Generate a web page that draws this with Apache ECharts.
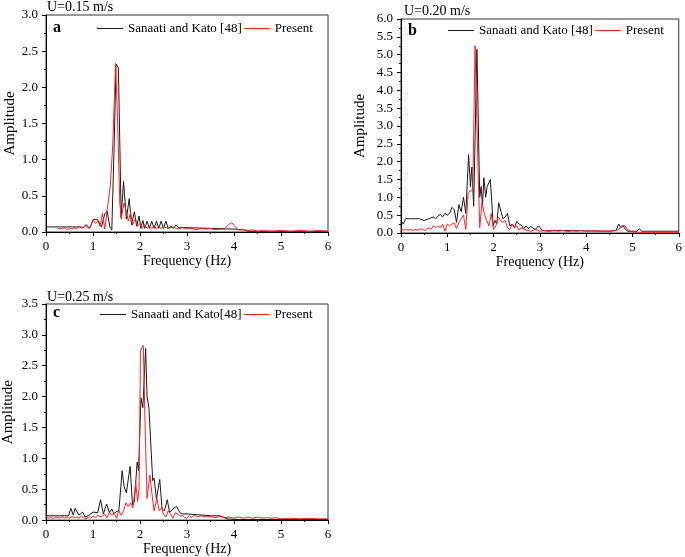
<!DOCTYPE html>
<html>
<head>
<meta charset="utf-8">
<script src="https://cdn.jsdelivr.net/npm/echarts@6/dist/echarts.min.js"></script>
<style>
html,body{margin:0;padding:0;background:#fff;}
#chart{width:685px;height:557px;}
</style>
</head>
<body>
<div id="chart"></div>
<script>
// ---------- DATA ----------
const freqTicks = [0, 1, 2, 3, 4, 5, 6];

// Panel a (U = 0.15 m/s)
const aRefF = [0, 0.75, 0.8, 0.86, 0.93, 1.0, 1.05, 1.1, 1.14, 1.18, 1.25, 1.3, 1.36, 1.4, 1.45, 1.49, 1.54, 1.6, 1.65, 1.71, 1.77, 1.82, 1.88, 1.93, 1.98, 2.02, 2.06, 2.1, 2.15, 2.2, 2.25, 2.3, 2.35, 2.4, 2.45, 2.5, 2.55, 2.6, 2.66, 2.71, 2.77, 2.82, 3.0, 3.5, 4.0, 4.2, 4.3, 5.0, 6.0];
const aRefA = [0.07, 0.07, 0.06, 0.1, 0.05, 0.17, 0.17, 0.17, 0.17, 0.07, 0.25, 0.29, 0.07, 0.03, 1.2, 2.32, 2.27, 0.2, 0.7, 0.18, 0.46, 0.1, 0.28, 0.08, 0.22, 0.05, 0.16, 0.05, 0.15, 0.05, 0.15, 0.05, 0.15, 0.05, 0.15, 0.05, 0.15, 0.05, 0.08, 0.05, 0.1, 0.06, 0.06, 0.05, 0.04, 0.03, 0.01, 0.01, 0.01];
const aPreF = [0.25, 0.3, 0.35, 0.4, 0.45, 0.5, 0.55, 0.6, 0.65, 0.7, 0.75, 0.8, 0.85, 0.9, 0.95, 1.0, 1.05, 1.1, 1.15, 1.2, 1.25, 1.3, 1.37, 1.42, 1.48, 1.52, 1.57, 1.6, 1.66, 1.71, 1.75, 1.8, 1.84, 1.9, 1.95, 2.0, 2.05, 2.1, 2.15, 2.2, 2.25, 2.3, 2.35, 2.4, 2.45, 2.5, 2.6, 2.7, 2.8, 2.9, 3.0, 3.1, 3.2, 3.3, 3.4, 3.5, 3.6, 3.7, 3.8, 3.88, 3.95, 4.02, 4.08, 4.2, 4.3, 4.4, 4.5, 4.6, 4.8, 5.0, 5.2, 5.4, 5.6, 5.8, 6.0];
const aPreA = [0.05, 0.04, 0.05, 0.06, 0.03, 0.05, 0.04, 0.06, 0.04, 0.08, 0.05, 0.07, 0.1, 0.05, 0.08, 0.17, 0.12, 0.15, 0.08, 0.26, 0.04, 0.3, 0.65, 1.2, 2.33, 1.6, 0.4, 0.18, 0.4, 0.28, 0.15, 0.27, 0.1, 0.18, 0.08, 0.12, 0.05, 0.1, 0.05, 0.08, 0.05, 0.09, 0.04, 0.08, 0.04, 0.07, 0.05, 0.07, 0.04, 0.06, 0.04, 0.05, 0.03, 0.05, 0.04, 0.05, 0.03, 0.04, 0.04, 0.1, 0.13, 0.08, 0.03, 0.03, 0.02, 0.03, 0.01, 0.02, 0.01, 0.02, 0.01, 0.02, 0.01, 0.02, 0.01];

// Panel b (U = 0.20 m/s)
const bRefF = [0, 0.05, 0.1, 0.2, 0.3, 0.4, 0.5, 0.6, 0.7, 0.75, 0.8, 0.85, 0.9, 0.95, 1.0, 1.05, 1.1, 1.15, 1.2, 1.25, 1.3, 1.35, 1.4, 1.46, 1.5, 1.53, 1.57, 1.64, 1.7, 1.73, 1.76, 1.79, 1.83, 1.86, 1.89, 1.93, 1.96, 1.99, 2.03, 2.07, 2.11, 2.15, 2.2, 2.25, 2.3, 2.35, 2.4, 2.45, 2.5, 2.55, 2.6, 2.65, 2.7, 2.75, 2.8, 2.9, 2.97, 3.05, 3.1, 3.5, 4.0, 4.5, 4.65, 4.7, 4.75, 4.8, 4.85, 4.9, 5.1, 5.15, 5.2, 6.0];
const bRefA = [0.35, 0.25, 0.4, 0.4, 0.4, 0.4, 0.35, 0.4, 0.45, 0.4, 0.48, 0.52, 0.45, 0.55, 0.5, 0.55, 0.72, 0.65, 0.3, 0.8, 0.6, 1.0, 0.55, 2.2, 1.3, 1.85, 0.75, 5.15, 1.0, 1.3, 0.75, 1.55, 1.0, 1.3, 1.25, 1.5, 0.9, 0.2, 0.35, 0.25, 0.85, 0.85, 0.4, 0.45, 0.55, 0.2, 0.25, 0.15, 0.32, 0.25, 0.22, 0.12, 0.2, 0.12, 0.18, 0.1, 0.2, 0.08, 0.06, 0.07, 0.06, 0.05, 0.07, 0.25, 0.15, 0.2, 0.1, 0.05, 0.05, 0.12, 0.05, 0.05];
const bPreF = [0, 0.05, 0.1, 0.15, 0.2, 0.25, 0.3, 0.35, 0.4, 0.45, 0.5, 0.55, 0.6, 0.65, 0.7, 0.75, 0.8, 0.85, 0.9, 0.95, 1.0, 1.05, 1.1, 1.15, 1.2, 1.25, 1.3, 1.35, 1.4, 1.45, 1.5, 1.55, 1.6, 1.65, 1.7, 1.75, 1.8, 1.85, 1.9, 1.95, 2.0, 2.05, 2.1, 2.15, 2.2, 2.25, 2.3, 2.35, 2.4, 2.45, 2.5, 2.55, 2.6, 2.7, 2.8, 2.9, 3.0, 3.1, 3.2, 3.3, 3.4, 3.5, 3.6, 3.7, 3.8, 3.9, 4.0, 4.2, 4.4, 4.6, 4.7, 4.8, 4.85, 4.9, 5.0, 5.2, 5.5, 6.0];
const bPreA = [0.1, 0.08, 0.1, 0.08, 0.1, 0.07, 0.1, 0.08, 0.1, 0.12, 0.07, 0.1, 0.15, 0.1, 0.2, 0.15, 0.2, 0.15, 0.25, 0.05, 0.25, 0.2, 0.25, 0.28, 0.12, 0.3, 0.4, 0.5, 0.1, 1.1, 1.2, 1.15, 5.25, 2.5, 0.15, 0.85, 0.55, 0.35, 0.2, 0.55, 0.1, 0.2, 0.45, 0.35, 0.3, 0.35, 0.15, 0.1, 0.25, 0.15, 0.2, 0.08, 0.15, 0.08, 0.05, 0.1, 0.05, 0.07, 0.04, 0.08, 0.05, 0.07, 0.04, 0.06, 0.05, 0.07, 0.05, 0.06, 0.05, 0.06, 0.1, 0.22, 0.18, 0.08, 0.03, 0.02, 0.02, 0.02];

// Panel c (U = 0.25 m/s)
const cRefF = [0, 0.48, 0.53, 0.58, 0.62, 0.7, 0.78, 0.83, 0.9, 1.0, 1.1, 1.16, 1.22, 1.29, 1.35, 1.4, 1.45, 1.5, 1.55, 1.62, 1.66, 1.71, 1.79, 1.84, 1.88, 1.94, 1.97, 2.02, 2.06, 2.12, 2.15, 2.19, 2.27, 2.3, 2.35, 2.42, 2.47, 2.52, 2.58, 2.63, 2.7, 2.78, 2.85, 2.9, 3.0, 3.5, 3.7, 3.85, 4.0, 5.0, 6.0];
const cRefA = [0.07, 0.07, 0.19, 0.08, 0.19, 0.08, 0.13, 0.05, 0.07, 0.13, 0.12, 0.33, 0.1, 0.26, 0.12, 0.18, 0.1, 0.14, 0.15, 0.8, 0.55, 0.44, 0.87, 0.25, 0.3, 0.94, 0.8, 1.98, 1.82, 2.78, 2.0, 1.82, 0.64, 0.68, 0.34, 0.66, 0.18, 0.15, 0.33, 0.12, 0.18, 0.22, 0.12, 0.1, 0.1, 0.07, 0.07, 0.02, 0.01, 0.01, 0.01];
const cPreF = [0, 0.05, 0.1, 0.15, 0.2, 0.3, 0.35, 0.4, 0.45, 0.5, 0.55, 0.6, 0.65, 0.7, 0.75, 0.8, 0.85, 0.9, 0.95, 1.0, 1.05, 1.1, 1.15, 1.2, 1.25, 1.3, 1.35, 1.4, 1.45, 1.5, 1.55, 1.6, 1.65, 1.7, 1.75, 1.8, 1.85, 1.91, 1.95, 1.98, 2.01, 2.07, 2.11, 2.15, 2.21, 2.25, 2.3, 2.36, 2.41, 2.46, 2.5, 2.55, 2.6, 2.65, 2.7, 2.75, 2.8, 2.85, 2.9, 2.95, 3.0, 3.05, 3.1, 3.15, 3.2, 3.3, 3.4, 3.5, 3.6, 3.7, 3.8, 3.9, 4.0, 4.1, 4.2, 4.3, 4.4, 4.5, 4.6, 4.7, 4.8, 4.9, 5.0, 5.2, 5.4, 5.6, 5.8, 6.0];
const cPreA = [0.05, 0.03, 0.05, 0.02, 0.05, 0.03, 0.06, 0.03, 0.05, 0.03, 0.06, 0.04, 0.05, 0.03, 0.06, 0.04, 0.02, 0.05, 0.03, 0.07, 0.04, 0.08, 0.05, 0.06, 0.1, 0.04, 0.13, 0.08, 0.12, 0.03, 0.15, 0.08, 0.15, 0.28, 0.22, 0.28, 0.2, 0.6, 0.3, 0.5, 2.75, 2.83, 1.5, 0.35, 0.73, 0.45, 0.15, 0.35, 0.15, 0.2, 0.1, 0.05, 0.15, 0.1, 0.03, 0.12, 0.1, 0.06, 0.08, 0.04, 0.03, 0.07, 0.04, 0.08, 0.05, 0.07, 0.05, 0.06, 0.04, 0.06, 0.04, 0.05, 0.03, 0.05, 0.03, 0.05, 0.03, 0.05, 0.03, 0.04, 0.03, 0.04, 0.02, 0.03, 0.02, 0.03, 0.02, 0.02];

const panelTitles = ['U=0.15 m/s', 'U=0.20 m/s', 'U=0.25 m/s'];
const panelLetters = ['a', 'b', 'c'];
const refNames = ['Sanaati and Kato [48]', 'Sanaati and Kato [48]', 'Sanaati and Kato[48]'];
const presentName = 'Present';
const yMaxes = [3.0, 6.0, 3.5];

// ---------- BUILD ----------
const zip = (f, a) => f.map((v, i) => [v, a[i]]);
const FONT = '"Liberation Serif", "Times New Roman", serif';
const BLACK = '#1a1a1a';
const RED = '#ff2020';

const grids = [
  {left: 46, top: 15, width: 282, height: 217},
  {left: 401, top: 19, width: 280, height: 214},
  {left: 46, top: 304, width: 282, height: 217}
];
const nameGaps = [28, 33, 30];
const titlePos = [{left: 47, top: 0}, {left: 404, top: 4}, {left: 47, top: 290}];
const letterPos = [{left: 53, top: 20}, {left: 408, top: 23}, {left: 53, top: 305}];
const legendPos = [{left: 97, top: 22}, {left: 448, top: 24}, {left: 100, top: 308}];

const refData = [zip(aRefF, aRefA), zip(bRefF, bRefA), zip(cRefF, cRefA)];
const preData = [zip(aPreF, aPreA), zip(bPreF, bPreA), zip(cPreF, cPreA)];

const xAxes = grids.map((g, i) => ({
  type: 'value', gridIndex: i, min: freqTicks[0], max: freqTicks[freqTicks.length - 1], interval: 1,
  name: 'Frequency (Hz)', nameLocation: 'middle', nameGap: 20,
  nameTextStyle: {fontFamily: FONT, fontSize: 14, color: '#000'},
  axisLine: {show: true, onZero: false, lineStyle: {color: '#000', width: 1}},
  axisTick: {show: true, length: 4, lineStyle: {color: '#000'}},
  minorTick: {show: true, splitNumber: 2, length: 2, lineStyle: {color: '#000'}},
  axisLabel: {fontFamily: FONT, fontSize: 13, color: '#000', margin: 8},
  splitLine: {show: false}
}));
const yAxes = grids.map((g, i) => ({
  type: 'value', gridIndex: i, min: 0, max: yMaxes[i], interval: 0.5,
  name: 'Amplitude', nameLocation: 'middle', nameGap: nameGaps[i],
  nameTextStyle: {fontFamily: FONT, fontSize: 15, color: '#000'},
  axisLine: {show: true, lineStyle: {color: '#000', width: 1}},
  axisTick: {show: true, length: 4, lineStyle: {color: '#000'}},
  minorTick: {show: true, splitNumber: 2, length: 2, lineStyle: {color: '#000'}},
  axisLabel: {fontFamily: FONT, fontSize: 13, color: '#000', margin: 8, formatter: v => v.toFixed(1)},
  splitLine: {show: false}
}));

const series = [];
for (let i = 0; i < 3; i++) {
  series.push({
    name: refNames[i], type: 'line', xAxisIndex: i, yAxisIndex: i, data: refData[i],
    symbol: 'none', lineStyle: {color: BLACK, width: 1}, itemStyle: {color: BLACK},
    animation: false, z: 2
  });
  series.push({
    name: presentName, type: 'line', xAxisIndex: i, yAxisIndex: i, data: preData[i],
    symbol: 'none', lineStyle: {color: RED, width: 1}, itemStyle: {color: RED},
    animation: false, z: 3
  });
}

const titles = [];
for (let i = 0; i < 3; i++) {
  titles.push({text: panelTitles[i], left: titlePos[i].left, top: titlePos[i].top, padding: 0,
    textStyle: {fontFamily: FONT, fontSize: 14, fontWeight: 'normal', color: '#000'}});
  titles.push({text: panelLetters[i], left: letterPos[i].left, top: letterPos[i].top, padding: 0,
    textStyle: {fontFamily: FONT, fontSize: 16, fontWeight: 'bold', color: '#000'}});
}

const legends = legendPos.map((p, i) => ({
  data: [
    {name: refNames[i], itemStyle: {color: BLACK}},
    {name: presentName, itemStyle: {color: RED}}
  ],
  left: p.left, top: p.top, orient: 'horizontal',
  icon: 'path://M0,0 L26,0 L26,1 L0,1 Z', itemWidth: 26, itemHeight: 14, itemGap: 2, padding: 0, selectedMode: false,
  textStyle: {fontFamily: FONT, fontSize: 13, color: '#000'}
}));

const chart = echarts.init(document.getElementById('chart'), null, {renderer: 'canvas'});
chart.setOption({
  backgroundColor: '#fff',
  animation: false,
  title: titles,
  legend: legends,
  grid: grids.map(g => Object.assign({show: true, borderColor: '#333', borderWidth: 1, backgroundColor: 'transparent'}, g)),
  xAxis: xAxes,
  yAxis: yAxes,
  series: series
});
</script>
</body>
</html>
